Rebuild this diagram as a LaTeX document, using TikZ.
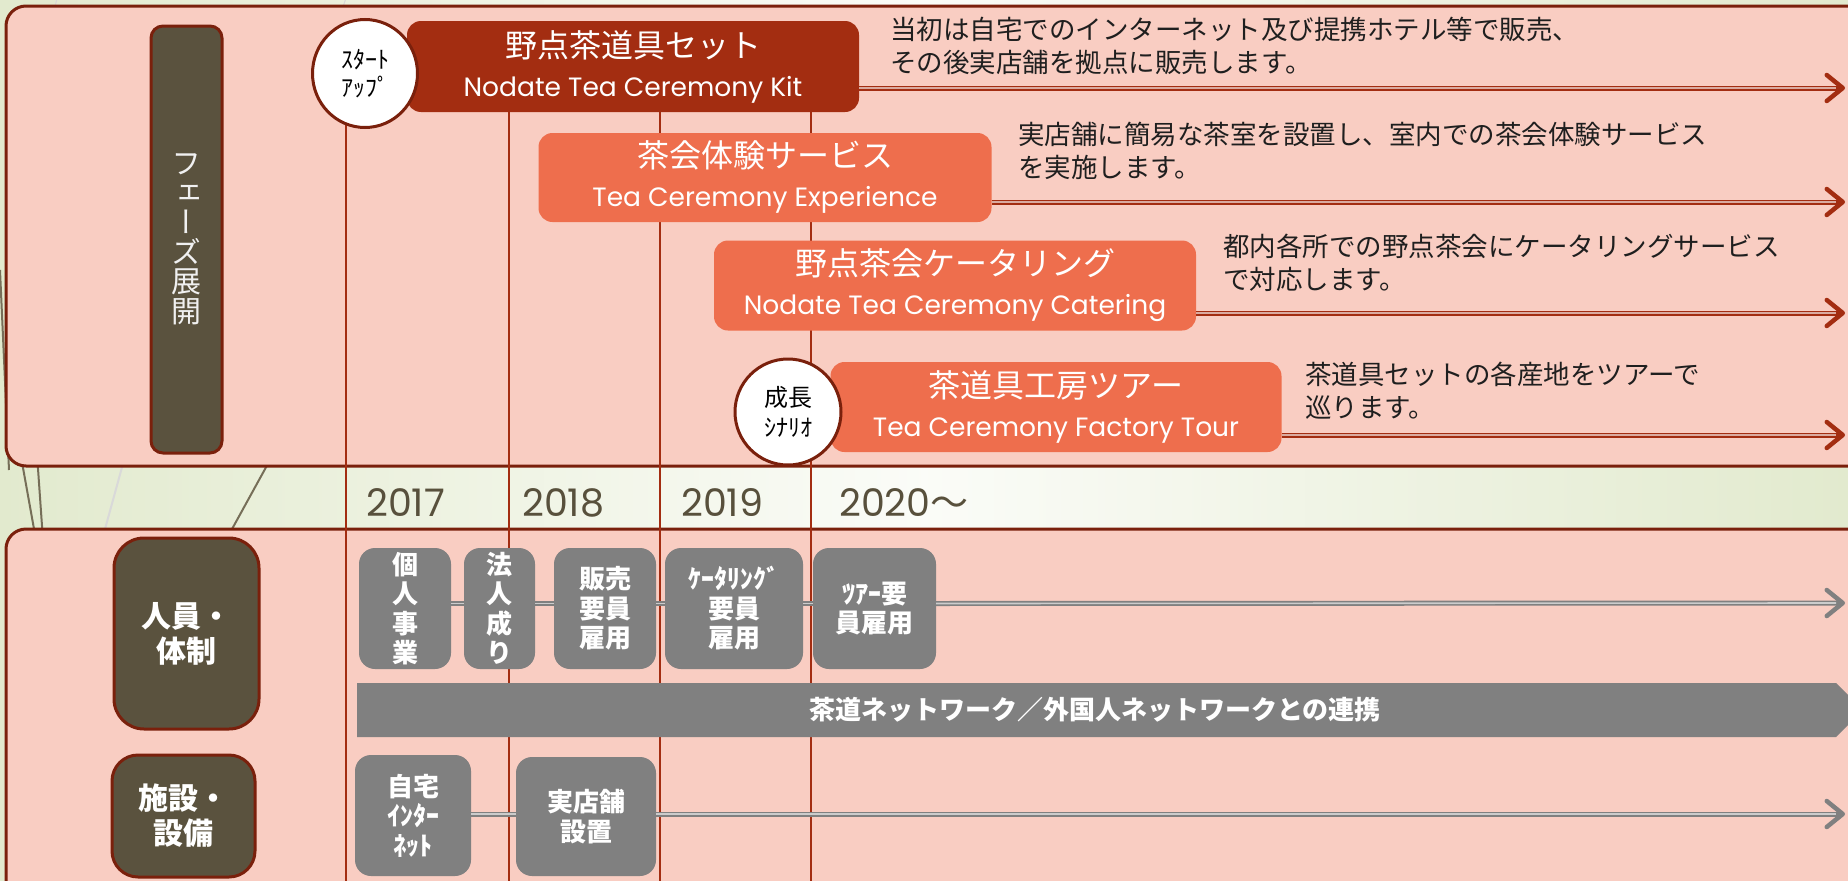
\documentclass[tikz,border=0pt]{standalone}
\usepackage{fontspec}
\setmainfont{Noto Sans CJK JP}
\newfontfamily\latin{Poppins}
\newfontfamily\jpvert{Noto Sans CJK JP}[RawFeature=+vert]
\usetikzlibrary{arrows.meta,shapes.geometric}

\definecolor{panelpink}{RGB}{249,205,194}
\definecolor{edgered}{RGB}{122,32,12}
\definecolor{kitred}{RGB}{163,45,17}
\definecolor{coral}{RGB}{238,110,77}
\definecolor{olive}{RGB}{90,82,62}
\definecolor{stepgrey}{RGB}{128,128,128}
\definecolor{leafgreen}{RGB}{226,234,206}
\definecolor{yeartext}{RGB}{88,80,60}
\definecolor{bamboo}{RGB}{118,110,88}

\tikzstyle{panel}=[draw=edgered, line width=3, fill=panelpink, rounded corners=20]
\tikzstyle{labelbox}=[draw=edgered, line width=3, fill=olive, text=white, inner sep=0pt, align=center]
\tikzstyle{phase}=[rounded corners=14, text=white, inner sep=0pt, align=center, font=\fontsize{32}{39}\selectfont]
\tikzstyle{badge}=[ellipse, draw=edgered, line width=3, fill=white, inner sep=0pt, align=center, minimum width=105, minimum height=108]
\tikzstyle{desc}=[anchor=west, align=left, inner sep=0pt, text=black!88, font=\fontsize{26.5}{33}\selectfont]
\tikzstyle{year}=[anchor=west, inner sep=0pt, text=yeartext, font=\latin\fontsize{38}{40}\selectfont]
\tikzstyle{stepbox}=[fill=stepgrey, rounded corners=16, text=white, inner sep=0pt, align=center, font=\bfseries\fontsize{26}{29.5}\selectfont]
\tikzstyle{timeline}=[draw=kitred, line width=2]
\tikzstyle{redarrow}=[draw=kitred, line width=5, -{Straight Barb[length=16pt, width=26pt, line width=4.5pt, round]}]
\tikzstyle{redmid}=[draw=kitred!40!white, line width=1.6, shorten >=9]
\tikzstyle{greyline}=[draw=stepgrey, line width=5]
\tikzstyle{greyarrow}=[greyline, -{Straight Barb[length=16pt, width=26pt, line width=4.5pt, round]}]
\tikzstyle{greymid}=[draw=black!20, line width=1.6]

\newcommand{\en}[1]{{\latin\fontsize{26.5}{39}\selectfont #1}}

\begin{document}
\begin{tikzpicture}[x=1pt, y=-1pt]

    \useasboundingbox (0,0) rectangle (1848,881);
    \clip (0,0) rectangle (1848,881);

    % backdrop
    \shade[left color=leafgreen, right color=leafgreen, middle color=white!85!leafgreen] (0,0) rectangle (1848,881);
    \draw[bamboo, line width=2] (0,270) -- (9,470);
    \draw[bamboo, line width=2] (18,440) -- (36,540);
    \draw[bamboo, line width=2] (36,440) -- (43,540);
    \draw[bamboo, line width=2] (270,460) -- (226,540);
    \draw[black!15, line width=2] (124,460) -- (102,540);
    \draw[black!15, line width=1] (58,-5) -- (54,10);
    \draw[black!15, line width=1] (347,-5) -- (342,10);

    % panels
    \draw[panel] (6,6) rectangle (1900,466);
    \draw[panel] (6,529) rectangle (1900,920);

    % year grid
    \foreach \x/\y in {346/120, 509/100, 660/100, 811/100}
        \draw[timeline] (\x,\y) -- (\x,881);

    \foreach \x/\yr in {366/2017, 522/2018, 681/2019}
        \node[year] (y\yr) at (\x,503) {\yr};
    \node[year] (y2020) at (839,503) {2020{\normalfont ～}};

    % phases
    \node[labelbox, rounded corners=12, minimum width=71, minimum height=427,
          font=\jpvert\fontsize{30}{29.5}\selectfont, text=white!94!black] (phaselbl) at (186.5,239.5)
          {フ\\ェ\\ー\\ズ\\展\\開};

    \node[phase, fill=kitred, minimum width=452, minimum height=91] (kit) at (633,66.5)
        {野点茶道具セット\\\en{Nodate Tea Ceremony Kit}};
    \node[phase, fill=coral, minimum width=453, minimum height=89] (exp) at (765,177.5)
        {茶会体験サービス\\\en{Tea Ceremony Experience}};
    \node[phase, fill=coral, minimum width=482, minimum height=90] (cat) at (955,285.5)
        {野点茶会ケータリング\\\en{Nodate Tea Ceremony Catering}};
    \node[phase, fill=coral, minimum width=451, minimum height=90] (tour) at (1056,407)
        {茶道具工房ツアー\\\en{Tea Ceremony Factory Tour}};

    \node[badge, font=\fontsize{24}{28}\selectfont] (start) at (365,73.5) {ｽﾀｰﾄ\\ｱｯﾌﾟ};
    \node[badge, minimum width=106, minimum height=106, font=\fontsize{24}{30}\selectfont] (grow) at (788,412) {成長\\ｼﾅﾘｵ};

    \node[desc] (d1) at (890,46) {当初は自宅でのインターネット及び提携ホテル等で販売、\\その後実店舗を拠点に販売します。};
    \node[desc] (d2) at (1018,151) {実店舗に簡易な茶室を設置し、室内での茶会体験サービス\\を実施します。};
    \node[desc] (d3) at (1223,263) {都内各所での野点茶会にケータリングサービス\\で対応します。};
    \node[desc] (d4) at (1305,391) {茶道具セットの各産地をツアーで\\巡ります。};

    \foreach \src/\yy in {kit/88, exp/202, cat/313, tour/435} {
        \coordinate (\src end) at (1845,\yy);
        \draw[redarrow] (\src.east |- \src end) -- (\src end);
        \draw[redmid] (\src.east |- \src end) -- (\src end);
    }

    % staff and facilities
    \node[labelbox, rounded corners=30, minimum width=145, minimum height=191,
          font=\bfseries\fontsize{30}{35}\selectfont] (staff) at (186.5,633.5) {人員・\\体制};
    \node[labelbox, rounded corners=26, minimum width=143, minimum height=122,
          font=\bfseries\fontsize{30}{35}\selectfont] (facil) at (183.5,816) {施設・\\設備};

    \node[stepbox, minimum width=92, minimum height=121] (p1) at (405,608.5) {個\\人\\事\\業};
    \node[stepbox, minimum width=71, minimum height=121] (p2) at (499.5,608.5) {法\\人\\成\\り};
    \node[stepbox, minimum width=102, minimum height=121] (p3) at (605,608.5) {販売\\要員\\雇用};
    \node[stepbox, minimum width=138, minimum height=121] (p4) at (734,608.5) {ｹｰﾀﾘﾝｸﾞ\\要員\\雇用};
    \node[stepbox, minimum width=123, minimum height=121] (p5) at (874.5,608.5) {ﾂｱｰ要\\員雇用};

    \node[stepbox, minimum width=116, minimum height=121] (f1) at (413,815.5) {自宅\\ｲﾝﾀｰ\\ﾈｯﾄ};
    \node[stepbox, minimum width=140, minimum height=119] (f2) at (586,816.5) {実店舗\\設置};

    \foreach \a/\b in {p1/p2, p2/p3, p3/p4, p4/p5} {
        \draw[greyline] ([yshift=5]\a.east) -- ([yshift=5]\b.west);
        \draw[greymid] ([yshift=5]\a.east) -- ([yshift=5]\b.west);
    }
    \coordinate (pend) at (1845,603);
    \draw[greyarrow] ([yshift=5]p5.east) -- (pend);
    \draw[greymid, shorten >=9] ([yshift=5]p5.east) -- (pend);

    \draw[greyline] (f1.east |- 0,814) -- (f2.west |- 0,814);
    \draw[greymid] (f1.east |- 0,814) -- (f2.west |- 0,814);
    \coordinate (fend) at (1845,814);
    \draw[greyarrow] (f2.east |- fend) -- (fend);
    \draw[greymid, shorten >=9] (f2.east |- fend) -- (fend);

    % network band
    \fill[stepgrey] (357,683) -- (1836,683) -- (1863,710) -- (1836,737) -- (357,737) -- cycle;
    \node[text=white, font=\bfseries\fontsize{26}{30}\selectfont, inner sep=0pt] (net) at (1095,710)
        {茶道ネットワーク／外国人ネットワークとの連携};

\end{tikzpicture}
\end{document}
